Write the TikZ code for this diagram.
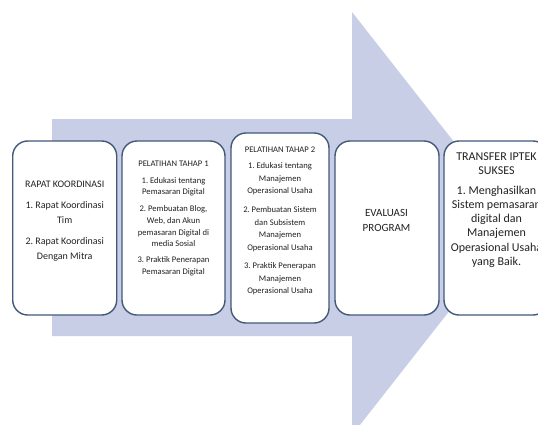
\documentclass[tikz,border=0pt]{standalone}
\usepackage{fontspec}
\setmainfont{Carlito}
\definecolor{arrowfill}{RGB}{200,206,230}
\definecolor{boxline}{RGB}{66,89,122}
\definecolor{txt}{RGB}{34,34,34}
\begin{document}
\frenchspacing
\begin{tikzpicture}[x=1pt,y=-1pt,
  stagebox/.style={draw=boxline,line width=1.4pt,fill=white,rounded corners=15pt},
  stagetext/.style={align=center,text=txt,inner sep=0pt}]
\clip (0,0) rectangle (538,424);
\fill[white] (0,0) rectangle (538,424);
% big arrow
\fill[arrowfill] (52,119) -- (352,119) -- (352,12) -- (518,223.5) -- (352,435) -- (352,336) -- (52,336) -- cycle;
% boxes
\draw[stagebox] (12.7,141) rectangle (116.7,315);
\draw[stagebox] (122,141) rectangle (225,315);
\draw[stagebox] (231,133) rectangle (329,323);
\draw[stagebox] (335,141) rectangle (439,315);
\draw[stagebox] (444,141) rectangle (548,315);
% texts
\node[stagetext,font=\fontsize{10}{15}\selectfont] (t1) at (64.7,221)
 {RAPAT KOORDINASI\\[6pt]1. Rapat Koordinasi\\Tim\\[6pt]2. Rapat Koordinasi\\Dengan Mitra};
\node[stagetext,font=\fontsize{8.6}{11.6}\selectfont] (t2) at (173.5,218.5)
 {PELATIHAN TAHAP 1\\[5pt]1. Edukasi tentang\\Pemasaran Digital\\[5.5pt]2. Pembuatan Blog,\\Web, dan Akun\\pemasaran Digital di\\media Sosial\\[4.5pt]3. Praktik Penerapan\\Pemasaran Digital};
\node[stagetext,font=\fontsize{8.6}{12.5}\selectfont] (t3) at (280,221)
 {PELATIHAN TAHAP 2\\[4.2pt]1. Edukasi tentang\\Manajemen\\Operasional Usaha\\[6.5pt]2. Pembuatan Sistem\\dan Subsistem\\Manajemen\\Operasional Usaha\\[6pt]3. Praktik Penerapan\\Manajemen\\Operasional Usaha};
\node[stagetext,font=\fontsize{11}{15}\selectfont] (t4) at (386.5,220)
 {EVALUASI\\PROGRAM};
\node[stagetext,font=\fontsize{12}{14.2}\selectfont] (t5) at (496.5,210)
 {TRANSFER IPTEK\\SUKSES\\[5.5pt]1. Menghasilkan\\Sistem pemasaran\\digital dan\\Manajemen\\Operasional Usaha\\yang Baik.};
\end{tikzpicture}
\end{document}
